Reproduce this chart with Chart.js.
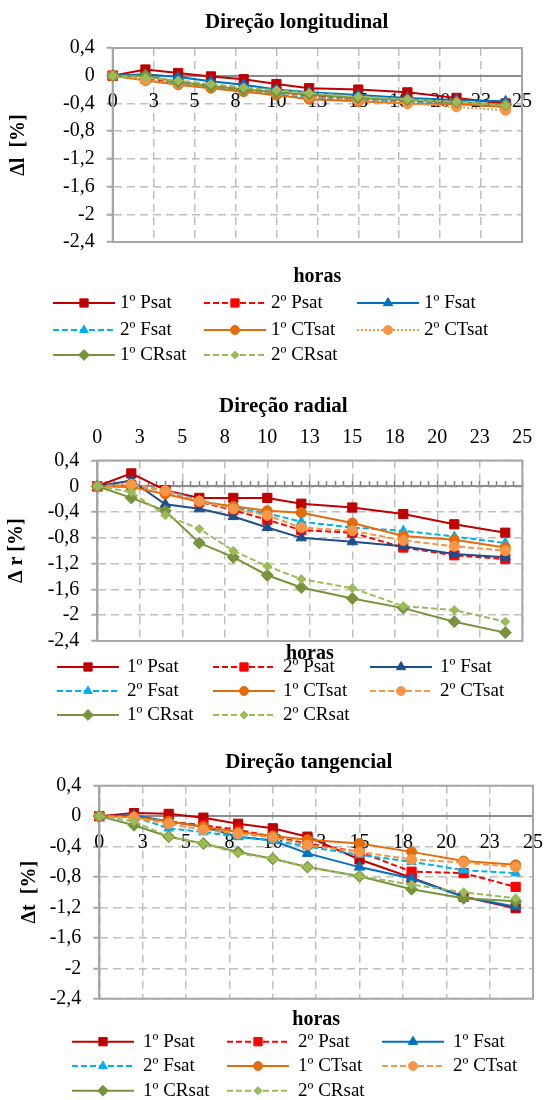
<!DOCTYPE html>
<html>
<head>
<meta charset="utf-8">
<script src="https://cdn.jsdelivr.net/npm/chart.js"></script>
<style>
  html, body { margin: 0; padding: 0; background: #fff; }
  #wrap { position: relative; width: 559px; height: 1100px; }
  canvas { position: absolute; left: 0; }
</style>
</head>
<body>
<div id="wrap">
  <canvas id="longitudinal" width="559" height="375" style="top:0px"></canvas>
  <canvas id="radial" width="559" height="353" style="top:375px"></canvas>
  <canvas id="tangencial" width="559" height="372" style="top:728px"></canvas>
</div>
<script>
// horas de medição (eixo x)
var hours = [0, 2, 4, 6, 8, 10, 12, 15, 18, 21, 24];
var seriesNames = ["1º Psat", "2º Psat", "1º Fsat", "2º Fsat", "1º CTsat", "2º CTsat", "1º CRsat", "2º CRsat"];

var xMin = 0, xMax = 25, xStep = 2.5;
var yMin = -2.4, yMax = 0.4, yStep = 0.4;

// Direção longitudinal
var long1P  = [0, 0.09, 0.04, -0.01, -0.05, -0.12, -0.18, -0.20, -0.24, -0.32, -0.40];
var long2P  = [0, -0.04, -0.09, -0.13, -0.18, -0.23, -0.29, -0.33, -0.36, -0.39, -0.43];
var long1F  = [0, 0.02, -0.02, -0.08, -0.13, -0.20, -0.24, -0.28, -0.32, -0.35, -0.37];
var long2F  = [0, -0.06, -0.12, -0.17, -0.22, -0.27, -0.32, -0.35, -0.38, -0.41, -0.44];
var long1CT = [0, -0.07, -0.13, -0.18, -0.23, -0.28, -0.34, -0.37, -0.40, -0.41, -0.45];
var long2CT = [0, -0.06, -0.11, -0.15, -0.20, -0.24, -0.30, -0.35, -0.40, -0.45, -0.50];
var long1CR = [0, 0.00, -0.09, -0.15, -0.20, -0.24, -0.27, -0.32, -0.35, -0.38, -0.42];
var long2CR = [0, -0.03, -0.07, -0.12, -0.17, -0.21, -0.25, -0.30, -0.34, -0.38, -0.43];

// Direção radial
var rad1P  = [0, 0.20, -0.06, -0.18, -0.18, -0.18, -0.27, -0.33, -0.43, -0.59, -0.72];
var rad2P  = [0, 0.02, -0.07, -0.24, -0.37, -0.52, -0.68, -0.72, -0.95, -1.07, -1.13];
var rad1F  = [0, 0.09, -0.28, -0.35, -0.47, -0.64, -0.80, -0.86, -0.93, -1.05, -1.10];
var rad2F  = [0, 0.02, -0.06, -0.22, -0.33, -0.42, -0.55, -0.64, -0.69, -0.78, -0.88];
var rad1CT = [0, -0.01, -0.12, -0.24, -0.31, -0.38, -0.41, -0.57, -0.77, -0.83, -0.95];
var rad2CT = [0, 0.03, -0.07, -0.23, -0.35, -0.45, -0.64, -0.69, -0.84, -0.93, -1.00];
var rad1CR = [0, -0.18, -0.38, -0.88, -1.10, -1.38, -1.57, -1.74, -1.89, -2.10, -2.27];
var rad2CR = [0, -0.09, -0.45, -0.66, -1.00, -1.24, -1.44, -1.58, -1.86, -1.92, -2.10];

// Direção tangencial
var tan1P  = [0, 0.04, 0.03, -0.02, -0.10, -0.16, -0.27, -0.57, -0.81, -1.06, -1.21];
var tan2P  = [0, -0.01, -0.07, -0.12, -0.18, -0.27, -0.36, -0.47, -0.73, -0.75, -0.93];
var tan1F  = [0, 0.01, -0.07, -0.14, -0.27, -0.32, -0.49, -0.67, -0.82, -1.06, -1.19];
var tan2F  = [0, -0.01, -0.16, -0.21, -0.27, -0.32, -0.40, -0.51, -0.60, -0.71, -0.75];
var tan1CT = [0, -0.01, -0.07, -0.14, -0.21, -0.26, -0.31, -0.36, -0.47, -0.59, -0.64];
var tan2CT = [0, -0.02, -0.10, -0.18, -0.23, -0.28, -0.38, -0.47, -0.57, -0.61, -0.67];
var tan1CR = [0, -0.12, -0.27, -0.36, -0.47, -0.56, -0.67, -0.79, -0.96, -1.08, -1.12];
var tan2CR = [0, -0.07, -0.27, -0.36, -0.49, -0.56, -0.67, -0.79, -0.90, -1.00, -1.08];

var seriesStyle = [
    { color: "#C00000", dash: [], shape: "rect", size: 6.5 },
    { color: "#FF0000", dash: [6, 3], shape: "rect", size: 6.5 },
    { color: "#0070C0", dash: [], shape: "triangle", size: 6 },
    { color: "#00B0F0", dash: [6, 3], shape: "triangle", size: 5.5 },
    { color: "#E46C0A", dash: [], shape: "circle", size: 5 },
    { color: "#F79646", dash: [6, 3], shape: "circle", size: 5 },
    { color: "#77933C", dash: [], shape: "rectRot", size: 6 },
    { color: "#9BBB59", dash: [6, 3], shape: "rectRot", size: 4.5 },
];

var gridColor = "#BFBFBF";
var frameColor = "#A6A6A6";
var zeroColor = "#8C8C8C";
var gridDash = [8, 5];

Chart.defaults.font.family = '"Liberation Serif", "Times New Roman", serif';
Chart.defaults.color = "#000";

function fmtY(v) {
    var r = Math.round(v * 10) / 10;
    return String(r).replace(".", ",");
}

function makeDatasets(values, overrides) {
    return values.map(function (vals, i) {
        var st = Object.assign({}, seriesStyle[i], (overrides || {})[i]);
        return {
            label: seriesNames[i],
            data: hours.map(function (h, k) { return { x: h, y: vals[k] }; }),
            borderColor: st.color,
            backgroundColor: st.color,
            pointBackgroundColor: st.color,
            pointBorderColor: st.color,
            borderWidth: 2,
            borderDash: st.dash,
            pointStyle: st.shape,
            pointRadius: st.size,
            pointHoverRadius: st.size,
            pointBorderWidth: 1,
            tension: 0,
            clip: false,
            order: values.length - i,
        };
    });
}

// contorno da área do gráfico
var framePlugin = {
    id: "frame",
    beforeDatasetsDraw: function (chart) {
        var a = chart.chartArea, ctx = chart.ctx;
        ctx.save();
        ctx.strokeStyle = frameColor;
        ctx.lineWidth = 2;
        ctx.strokeRect(a.left, a.top, a.right - a.left, a.bottom - a.top);
        ctx.restore();
    },
};

// legenda em 3 colunas com linha + marcador
var lineLegend = {
    id: "lineLegend",
    afterDraw: function (chart, args, opts) {
        var ctx = chart.ctx;
        chart.data.datasets.forEach(function (ds, i) {
            var x = opts.cols[i % 3];
            var y = opts.rows[Math.floor(i / 3)];
            ctx.save();
            ctx.strokeStyle = ds.borderColor;
            ctx.lineWidth = ds.borderWidth;
            ctx.setLineDash(ds.borderDash || []);
            ctx.beginPath();
            ctx.moveTo(x, y);
            ctx.lineTo(x + opts.lineLen, y);
            ctx.stroke();
            ctx.setLineDash([]);
            ctx.fillStyle = ds.pointBackgroundColor;
            ctx.strokeStyle = ds.pointBorderColor;
            ctx.lineWidth = 1;
            Chart.helpers.drawPoint(ctx, {
                pointStyle: ds.pointStyle, rotation: 0,
                radius: ds.pointRadius * 0.9, borderWidth: 1,
            }, x + opts.lineLen / 2, y);
            ctx.fillStyle = "#000";
            ctx.font = "19px " + Chart.defaults.font.family;
            ctx.textBaseline = "middle";
            ctx.textAlign = "left";
            ctx.fillText(ds.label, x + opts.textGap, y);
            ctx.restore();
        });
    },
};

function makeChart(id, c) {
    var scales = {
        x: {
            type: "linear", min: xMin, max: xMax, position: { y: 0 },
            ticks: {
                display: !c.topTicks, stepSize: xStep, padding: c.xLabelPad || 0,
                autoSkip: false, maxRotation: 0, font: { size: 20 },
                callback: function (v) { return Math.round(v); },
            },
            grid: { color: gridColor, lineWidth: 1.5, drawTicks: false },
            border: { display: true, color: zeroColor, width: 2, dash: gridDash },
        },
        y: {
            type: "linear", min: yMin, max: yMax,
            ticks: { stepSize: yStep, padding: 12, autoSkip: false, font: { size: 20 }, callback: fmtY },
            grid: {
                color: gridColor, lineWidth: 1.5, tickLength: 6,
                tickColor: frameColor, tickWidth: 2, tickBorderDash: [],
            },
            border: { color: frameColor, width: 2, dash: gridDash },
            title: {
                display: true, text: c.yTitle, font: { size: 20, weight: "bold" },
                padding: { top: c.yTitlePad, bottom: 0 },
            },
            afterFit: function (s) { s.width = c.yWidth; },
        },
        // espaço vazio à direita (centra o título como no original)
        yr: {
            type: "linear", axis: "y", position: "right", min: yMin, max: yMax,
            ticks: { display: false }, grid: { display: false }, border: { display: false },
            afterFit: function (s) { s.width = c.rightSpace; },
        },
        xb: {
            type: "linear", axis: "x", position: "bottom", min: xMin, max: xMax,
            ticks: { display: false },
            grid: { display: false },
            border: { display: false },
            title: { display: true, text: "horas", font: { size: 20, weight: "bold" }, padding: 0 },
            afterFit: function (s) { s.height = c.xbHeight; },
        },
    };
    if (c.topTicks) {
        scales.xt = {
            type: "linear", axis: "x", position: "top", min: xMin, max: xMax,
            ticks: {
                stepSize: xStep, padding: c.topLabelPad, autoSkip: false, maxRotation: 0,
                font: { size: 20 }, callback: function (v) { return Math.round(v); },
            },
            grid: { display: false },
            border: { display: false },
            afterFit: function (s) { s.height = c.topHeight; },
        };
        scales.xm = {
            type: "linear", axis: "x", position: { y: 0 }, min: xMin, max: xMax,
            ticks: { display: false, stepSize: 0.5 },
            grid: { drawOnChartArea: false, tickLength: -5, tickColor: "#7F7F7F", tickWidth: 1.5 },
            border: { display: false },
        };
    }

    return new Chart(document.getElementById(id).getContext("2d"), {
        type: "line",
        data: { datasets: makeDatasets(c.values, c.overrides) },
        options: {
            responsive: false,
            animation: false,
            devicePixelRatio: 1,
            layout: { padding: { left: 0, right: c.padRight, top: 0, bottom: c.padBottom } },
            plugins: {
                legend: { display: false },
                tooltip: { enabled: false },
                title: {
                    display: true, text: c.title, fullSize: true,
                    font: { size: 21, weight: "bold" }, padding: c.titlePad, color: "#000",
                },
                lineLegend: { rows: c.rows, cols: c.cols, lineLen: 62, textGap: c.textGap },
            },
            scales: scales,
        },
        plugins: [framePlugin, lineLegend],
    });
}

makeChart("longitudinal", {
    title: "Direção longitudinal",
    titlePad: { top: 10.4, bottom: 12.4 },
    yTitle: "Δl  [%]", yTitlePad: 6.5, yWidth: 112.7,
    padRight: -34.4, rightSpace: 71.4, padBottom: 86, xbHeight: 47, xLabelPad: 13.7,
    values: [long1P, long2P, long1F, long2F, long1CT, long2CT, long1CR, long2CR],
    overrides: { 5: { dash: [2, 2] } },
    rows: [303, 330, 355], cols: [53, 204, 357], textGap: 67,
});

makeChart("radial", {
    title: "Direção radial",
    titlePad: { top: 19.4, bottom: 0 },
    topTicks: true, topHeight: 40.9, topLabelPad: 2.5,
    yTitle: "Δ r [%]", yTitlePad: 5, yWidth: 97.3,
    padRight: -7.6, rightSpace: 44.3, padBottom: 62, xbHeight: 25,
    values: [rad1P, rad2P, rad1F, rad2F, rad1CT, rad2CT, rad1CR, rad2CR],
    overrides: { 2: { color: "#1F4E8A" } },
    rows: [292, 316, 340], cols: [57, 213, 370], textGap: 70,
});

makeChart("tangencial", {
    title: "Direção tangencial",
    titlePad: { top: 22.4, bottom: 10.1 },
    yTitle: "Δt  [%]", yTitlePad: 18, yWidth: 99.3,
    padRight: -58.6, rightSpace: 84.6, padBottom: 68.3, xbHeight: 33, xLabelPad: 14.8,
    values: [tan1P, tan2P, tan1F, tan2F, tan1CT, tan2CT, tan1CR, tan2CR],
    rows: [313.7, 338, 362.7], cols: [72, 227, 382], textGap: 71,
});
</script>
</body>
</html>
